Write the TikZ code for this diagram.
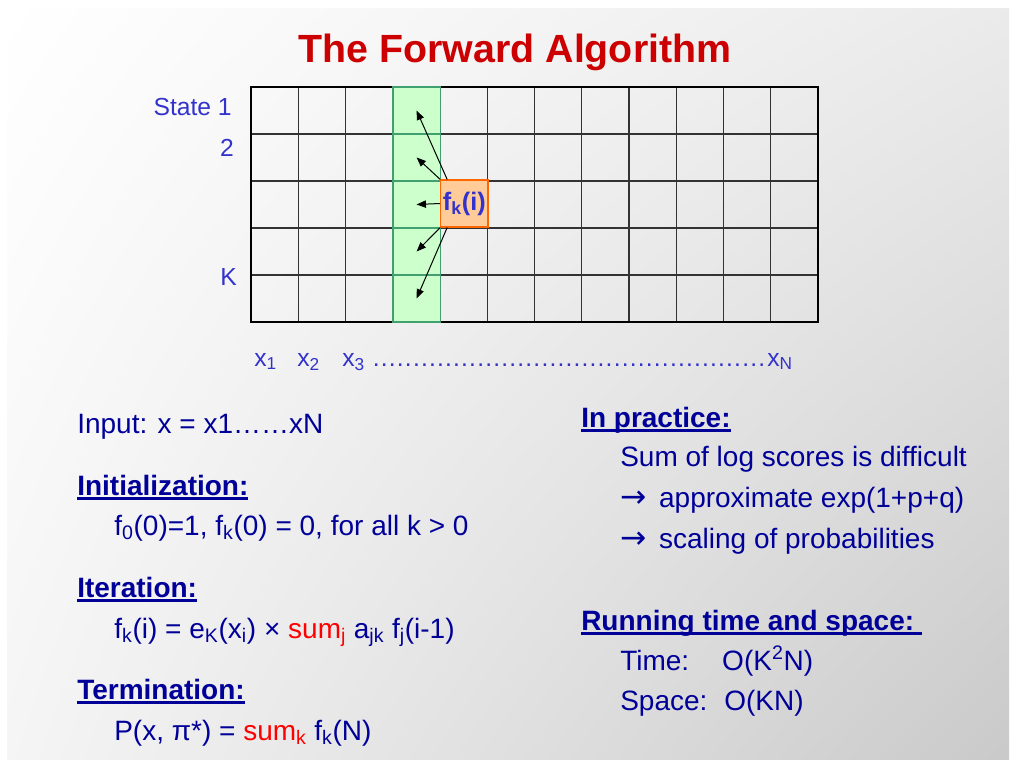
\documentclass[tikz,border=0pt]{standalone}
\usepackage{fontspec}
\setmainfont{Liberation Sans}
\newfontfamily\arrowfont{DejaVu Sans}
\usetikzlibrary{arrows.meta,shadings}

\definecolor{titlered}{HTML}{CC0000}
\definecolor{textblue}{HTML}{000099}
\definecolor{labelblue}{HTML}{3333CC}
\definecolor{sumred}{HTML}{FF0000}
\definecolor{cellfill}{HTML}{CCFFCC}
\definecolor{cellline}{HTML}{40A070}
\definecolor{fkfill}{HTML}{FFCC99}
\definecolor{fkline}{HTML}{FF6600}

% titre souligne
\newsavebox{\hdrbox}
\newcommand{\hdr}[1]{\sbox{\hdrbox}{\bfseries #1}\rlap{\rule[-3.6pt]{\wd\hdrbox}{2pt}}\usebox{\hdrbox}}
\newcommand{\toarrow}{{\arrowfont\scalebox{1.12}{→}}\hspace{0.45em}}

\tikzset{
  title/.style={anchor=base, inner sep=0pt, text=titlered, font=\fontsize{29.5}{34}\selectfont\bfseries},
  body/.style={anchor=base west, inner sep=0pt, text=textblue, font=\fontsize{21}{25}\selectfont},
  lbl/.style={inner sep=0pt, text=labelblue, font=\fontsize{18.5}{22}\selectfont},
  gridline/.style={black!80, line width=0.9pt},
  greencell/.style={draw=cellline, fill=cellfill, line width=0.9pt, inner sep=0pt, minimum width=35.44pt, minimum height=35.25pt},
  fkbox/.style={draw=fkline, fill=fkfill, line width=0.9pt, inner sep=0pt, minimum width=35.44pt, minimum height=35.25pt, text=labelblue, font=\fontsize{19}{22}\selectfont\bfseries},
  flow/.style={line width=0.75pt, -{Triangle[length=7pt,width=5.5pt]}}
}

\begin{document}
\begin{tikzpicture}[x=0.75pt,y=0.75pt]
    % Fond
    \useasboundingbox (0,0) rectangle (1011,-760);
    \fill[white] (0,0) rectangle (1011,-760);
    \shade[upper left=white, upper right=black!8, lower left=black!4, lower right=black!21] (7,-8) rectangle (1009,-760);

    % Titre
    \node[title] (title) at (515,-62) {The Forward Algorithm};

    % Grille
    \foreach \i in {1,...,11}
        \draw[gridline] ({251+47.25*\i},-87) -- ({251+47.25*\i},-322);
    \foreach \j in {1,...,4}
        \draw[gridline] (251,{-87-47*\j}) -- (818,{-87-47*\j});
    \draw[line width=1.6pt] (251,-87) rectangle (818,-322);

    % Colonne i-1
    \foreach \j in {1,...,5}
        \node[greencell] (c\j) at (416.6,{-63.5-47*\j}) {};

    % Cellule courante
    \node[fkbox] (fk) at (464.4,-203.5) {f\textsubscript{k}(i)};
    \draw[flow] ([xshift=5.25pt]fk.north west) -- (c1.center);
    \draw[flow] (fk.north west) -- (c2.center);
    \draw[flow] (fk.west) -- (c3.center);
    \draw[flow] (fk.south west) -- (c4.center);
    \draw[flow] ([xshift=5.25pt]fk.south west) -- (c5.center);

    % Etats
    \node[lbl, anchor=base east] (s1) at (232,-115) {State 1};
    \node[lbl, anchor=base east] (s2) at (234,-156) {2};
    \node[lbl, anchor=base east] (sK) at (237,-285) {K};

    % Sequence
    \node[lbl, anchor=base west] (x1) at (254,-366) {x\textsubscript{1}};
    \node[lbl, anchor=base west] (x2) at (297,-366) {x\textsubscript{2}};
    \node[lbl, anchor=base west] (x3) at (342,-366) {x\textsubscript{3}};
    \node[lbl, anchor=base west] (dots) at (372,-366) {\hbox to 295pt{\xleaders\hbox to 6pt{\hss.\hss}\hfill}};
    \node[lbl, anchor=base west] (xN) at (767,-366) {x\textsubscript{N}};

    % Colonne gauche
    \node[body] (inp) at (77,-433) {Input: x = x1……xN};
    \node[body] (init) at (77,-495) {\hdr{Initialization:}};
    \node[body] (initf) at (114,-535) {f\textsubscript{0}(0)=1, f\textsubscript{k}(0) = 0, for all k > 0};
    \node[body] (iter) at (77,-597) {\hdr{Iteration:}};
    \node[body] (iterf) at (114,-638) {f\textsubscript{k}(i) = e\textsubscript{K}(x\textsubscript{i}) × \textcolor{sumred}{sum\textsubscript{j}} a\textsubscript{jk} f\textsubscript{j}(i-1)};
    \node[body] (term) at (77,-699) {\hdr{Termination:}};
    \node[body] (termf) at (114,-740) {P(x, π*) = \textcolor{sumred}{sum\textsubscript{k}} f\textsubscript{k}(N)};

    % Colonne droite
    \node[body] (prac) at (581,-427) {\hdr{In practice:}};
    \node[body] (p1) at (620,-466) {Sum of log scores is difficult};
    \node[body] (p2) at (620,-507) {\toarrow approximate exp(1+p+q)};
    \node[body] (p3) at (620,-548) {\toarrow scaling of probabilities};
    \node[body] (run) at (581,-630) {\hdr{Running time and space:\ }};
    \node[body] (t1) at (620,-670) {\makebox[76.5pt][l]{Time:}O(K\textsuperscript{2}N)};
    \node[body] (t2) at (620,-710) {\makebox[78pt][l]{Space:}O(KN)};

\end{tikzpicture}
\end{document}
